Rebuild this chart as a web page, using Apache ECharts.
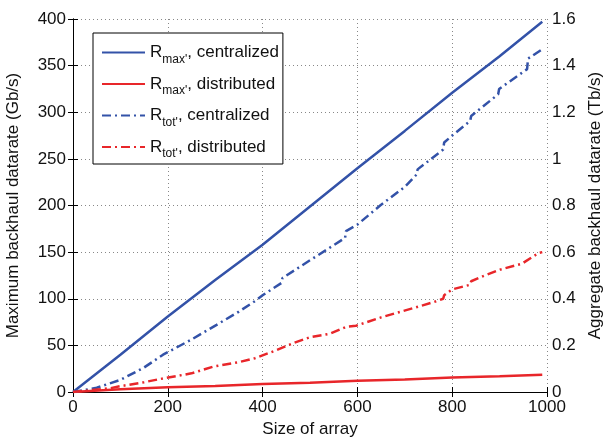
<!DOCTYPE html>
<html>
<head>
<meta charset="utf-8">
<script src="https://cdn.jsdelivr.net/npm/echarts@6/dist/echarts.min.js"></script>
<style>
    html, body { margin: 0; padding: 0; background: #fff; }
    #chart { width: 603px; height: 437px; }
</style>
</head>
<body>
<div id="chart"></div>
<script>
    // array sizes and rates
    const sizeMax = [0, 100, 200, 300, 400, 500, 600, 700, 800, 900, 990];
    const rmaxCentral = [0, 40, 81, 120, 158, 199, 240, 280, 321, 360, 397];   // Gb/s
    const rmaxDistrib = [0, 3, 5, 6.5, 8.5, 10, 12, 13.5, 15.5, 17, 18.5];    // Gb/s

    const sizeTotC = [0, 50, 100, 150, 190, 250, 303, 350, 384, 400, 440, 442, 500, 574, 576, 600, 648, 700, 725, 727, 781, 783, 800, 838, 840, 897, 899, 958, 960, 990];
    const rtotCentral = [0, 0.018, 0.052, 0.105, 0.16, 0.225, 0.288, 0.345, 0.39, 0.415, 0.468, 0.489, 0.565, 0.661, 0.69, 0.718, 0.8, 0.88, 0.933, 0.955, 1.04, 1.07, 1.1, 1.163, 1.184, 1.277, 1.3, 1.385, 1.43, 1.47];   // Tb/s

    const sizeTotD = [0, 78, 100, 150, 192, 250, 296, 350, 384, 430, 465, 500, 542, 577, 597, 650, 718, 760, 781, 783, 800, 838, 840, 869, 901, 947, 982, 990];
    const rtotDistrib = [0, 0.016, 0.025, 0.042, 0.059, 0.08, 0.109, 0.128, 0.145, 0.18, 0.21, 0.235, 0.25, 0.28, 0.284, 0.32, 0.36, 0.385, 0.4, 0.415, 0.44, 0.46, 0.475, 0.5, 0.525, 0.55, 0.596, 0.6];   // Tb/s

    const xTicks = { min: 0, max: 1000, step: 200 };
    const leftTicks = { min: 0, max: 400, step: 50 };
    const rightTicks = { min: 0, max: 1.6, step: 0.2 };

    const zip = (xs, ys) => xs.map((x, i) => [x, ys[i]]);

    const BLUE = '#3352a8', RED = '#e8262a';
    const FONT = '"Liberation Sans", Arial, sans-serif';
    const dashDot = [9, 4, 2, 4];

    const chart = echarts.init(document.getElementById('chart'));
    window.onresize = function () {
        chart.resize();
    };

    const gridLine = { show: true, lineStyle: { color: '#888', width: 1, type: [1, 3] } };
    const tick = { show: true, inside: true, length: 5, lineStyle: { color: '#000' } };
    const axisLine = { show: true, lineStyle: { color: '#000', width: 1 } };
    const label = { color: '#111', fontSize: 17, fontFamily: FONT };
    const plain = v => String(v);

    chart.setOption({
        animation: false,
        textStyle: { fontFamily: FONT },
        grid: { left: 73, right: 56, top: 19, bottom: 45, outerBoundsMode: 'none', containLabel: false },
        legend: {
            left: 93, top: 33,
            orient: 'vertical',
            backgroundColor: '#fff',
            borderColor: '#000',
            borderWidth: 1,
            borderRadius: 0,
            padding: [11, 4, 4, 8],
            itemWidth: 43,
            itemHeight: 14,
            itemGap: 10,
            itemStyle: { opacity: 0 },
            data: ['rmaxC', 'rmaxD', 'rtotC', 'rtotD'],
            formatter: function (name) {
                return {
                    rmaxC: '{m|R}{s|max\'}{m|, centralized}',
                    rmaxD: '{m|R}{s|max\'}{m|, distributed}',
                    rtotC: '{m|R}{s|tot\'}{m|, centralized}',
                    rtotD: '{m|R}{s|tot\'}{m|, distributed}'
                }[name];
            },
            textStyle: {
                rich: {
                    m: { fontSize: 17, color: '#111', fontFamily: FONT, lineHeight: 26, verticalAlign: 'middle' },
                    s: { fontSize: 12, color: '#111', fontFamily: FONT, lineHeight: 12, verticalAlign: 'bottom' }
                }
            }
        },
        xAxis: [{
            type: 'value', position: 'bottom',
            min: xTicks.min, max: xTicks.max, interval: xTicks.step,
            name: 'Size of array', nameLocation: 'middle', nameGap: 26,
            nameTextStyle: { fontSize: 17, color: '#111', fontFamily: FONT },
            axisLine: axisLine, axisTick: tick, splitLine: gridLine,
            axisLabel: Object.assign({ margin: 7, formatter: plain }, label)
        }, {
            type: 'value', position: 'top',
            min: xTicks.min, max: xTicks.max, interval: xTicks.step,
            axisLine: axisLine, axisTick: tick, splitLine: { show: false },
            axisLabel: { show: false }
        }],
        yAxis: [{
            type: 'value', position: 'left',
            min: leftTicks.min, max: leftTicks.max, interval: leftTicks.step,
            name: 'Maximum backhaul datarate (Gb/s)', nameLocation: 'middle', nameGap: 51, nameRotate: 90,
            nameTextStyle: { fontSize: 17, color: '#111', fontFamily: FONT },
            axisLine: axisLine, axisTick: tick, splitLine: gridLine,
            axisLabel: Object.assign({ margin: 7, formatter: plain }, label)
        }, {
            type: 'value', position: 'right',
            min: rightTicks.min, max: rightTicks.max, interval: rightTicks.step,
            name: 'Aggregate backhaul datarate (Tb/s)', nameLocation: 'middle', nameGap: 34, nameRotate: 90,
            nameTextStyle: { fontSize: 17, color: '#111', fontFamily: FONT },
            axisLine: axisLine, axisTick: tick, splitLine: { show: false },
            axisLabel: Object.assign({ margin: 5 }, label)
        }],
        series: [
            {
                name: 'rmaxC', type: 'line', yAxisIndex: 0, symbol: 'none',
                data: zip(sizeMax, rmaxCentral),
                lineStyle: { color: BLUE, width: 2.5 }, itemStyle: { color: BLUE }
            },
            {
                name: 'rmaxD', type: 'line', yAxisIndex: 0, symbol: 'none',
                data: zip(sizeMax, rmaxDistrib),
                lineStyle: { color: RED, width: 2.5 }, itemStyle: { color: RED }
            },
            {
                name: 'rtotC', type: 'line', yAxisIndex: 1, symbol: 'none',
                data: zip(sizeTotC, rtotCentral),
                lineStyle: { color: BLUE, width: 2.5, type: dashDot }, itemStyle: { color: BLUE }
            },
            {
                name: 'rtotD', type: 'line', yAxisIndex: 1, symbol: 'none',
                data: zip(sizeTotD, rtotDistrib),
                lineStyle: { color: RED, width: 2.5, type: dashDot }, itemStyle: { color: RED }
            }
        ]
    });
</script>
</body>
</html>
